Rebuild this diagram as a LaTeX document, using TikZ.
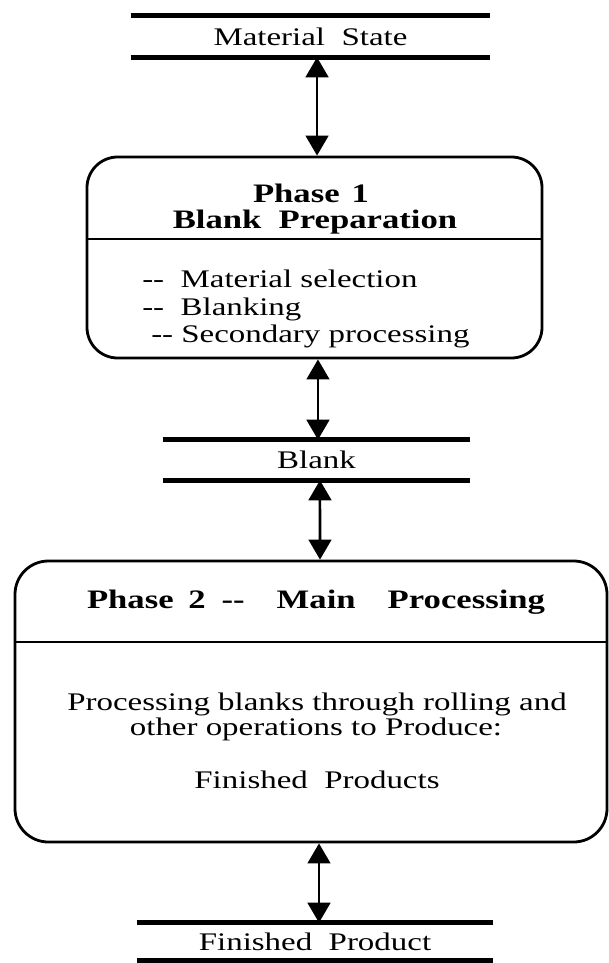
\documentclass[tikz,border=0pt]{standalone}
\usepackage{fontspec}
\setmainfont{Liberation Serif}[FakeStretch=1.3]
\usetikzlibrary{arrows.meta}
\begin{document}
\begin{tikzpicture}[x=0.75pt,y=-0.75pt,
  txt/.style={inner sep=0pt,font=\fontsize{19pt}{22pt}\selectfont},
  btxt/.style={inner sep=0pt,font=\fontsize{20pt}{23pt}\selectfont\bfseries},
  store/.style={inner sep=0pt,font=\fontsize{19pt}{22pt}\selectfont},
  storeline/.style={line width=3.4pt},
  phasebox/.style={draw,line width=2.1pt,inner sep=0pt,rounded corners=23pt},
  divider/.style={line width=1.8pt},
  dblarrow/.style={line width=1.9pt,{Triangle[width=17pt,length=15pt]}-{Triangle[width=17pt,length=15pt]}}
]
\useasboundingbox (0,0) rectangle (609,963);

% stores
\node[store,minimum width=269.25pt,minimum height=30.75pt] (ms) at (310.5,36.5) {Material\ \ State};
\draw[storeline] (ms.north west) -- (ms.north east);
\draw[storeline] (ms.south west) -- (ms.south east);

\node[store,minimum width=230.25pt,minimum height=30pt] (bl) at (316.5,460) {Blank};
\draw[storeline] (bl.north west) -- (bl.north east);
\draw[storeline] (bl.south west) -- (bl.south east);

\node[store,minimum width=267pt,minimum height=27.75pt] (fp) at (315,941.5) {Finished\ \ Product};
\draw[storeline] (fp.north west) -- (fp.north east);
\draw[storeline] (fp.south west) -- (fp.south east);

% phase 1
\node[phasebox,minimum width=341.25pt,minimum height=150.75pt] (p1) at (314.5,257.5) {};
\coordinate (d1) at (0,239);
\draw[divider] (p1.west |- d1) -- (p1.east |- d1);
\node[btxt,anchor=base] (p1a) at (311,202) {Phase\hspace{9pt}1};
\node[btxt,anchor=base] (p1b) at (315,228) {Blank\ \ Preparation};
\node[txt,anchor=base west] (l1) at (142,287) {-{}-\ \ Material selection};
\node[txt,anchor=base west] (l2) at (142,315) {-{}-\ \ Blanking};
\node[txt,anchor=base west] (l3) at (151,342) {-{}- Secondary processing};

% phase 2
\node[phasebox,rounded corners=25pt,minimum width=444pt,minimum height=210.75pt] (p2) at (311,701.5) {};
\coordinate (d2) at (0,642);
\draw[divider] (p2.west |- d2) -- (p2.east |- d2);
\node[btxt,anchor=base] (p2a) at (316,608) {Phase\hspace{11pt}2\hspace{12pt}-{}-\hspace{24pt}Main\hspace{24pt}Processing};
\node[txt,anchor=base] (p2b) at (317,710) {Processing blanks through rolling and};
\node[txt,anchor=base] (p2c) at (316,735) {other operations to Produce:};
\node[txt,anchor=base] (p2d) at (317,788) {Finished\ \ Products};

% connectors
\draw[dblarrow] ([xshift=4.9pt]ms.south) -- ([xshift=1.9pt]p1.north);
\draw[dblarrow] ([xshift=2.6pt]p1.south) -- ([xshift=1.1pt]bl.north);
\draw[dblarrow] ([xshift=2.6pt]bl.south) -- ([xshift=6.75pt]p2.north);
\draw[dblarrow] ([xshift=6pt]p2.south) -- ([xshift=3pt]fp.north);
\end{tikzpicture}
\end{document}
